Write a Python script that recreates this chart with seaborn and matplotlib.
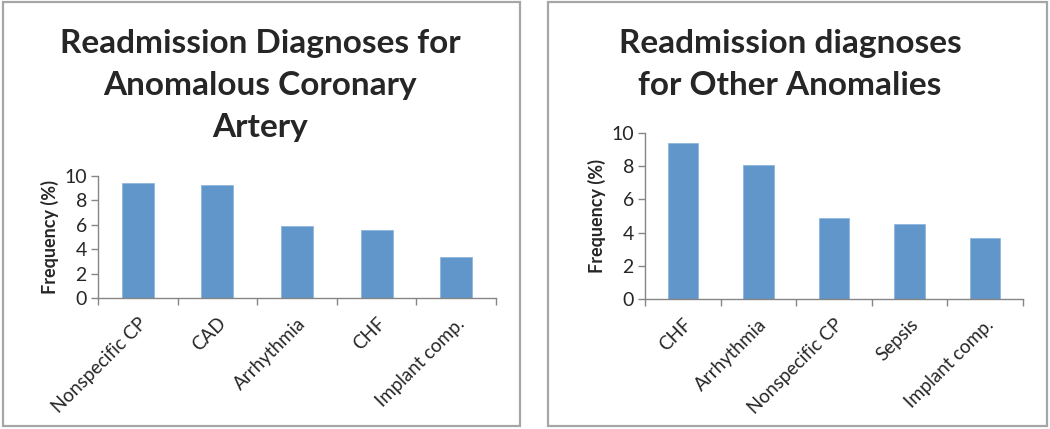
import matplotlib
matplotlib.use("Agg")
import matplotlib.pyplot as plt
import seaborn as sns
import pandas as pd
from matplotlib.patches import Rectangle

left_title = "Readmission Diagnoses for\nAnomalous Coronary\nArtery"
left_categories = ["Nonspecific CP", "CAD", "Arrhythmia", "CHF", "Implant comp."]
left_values = [9.4, 9.3, 5.9, 5.6, 3.4]

right_title = "Readmission diagnoses\nfor Other Anomalies"
right_categories = ["CHF", "Arrhythmia", "Nonspecific CP", "Sepsis", "Implant comp."]
right_values = [9.4, 8.1, 4.9, 4.5, 3.7]

y_ticks = [0, 2, 4, 6, 8, 10]
y_label = "Frequency (%)"

sns.set_theme(style="white")
plt.rcParams["font.family"] = ["Lato", "DejaVu Sans"]

BAR = "#6096ca"
GREY = "#868686"

fig = plt.figure(figsize=(10.5, 4.29), dpi=100)

# panel frames
for (x0, x1) in [(3, 520), (548, 1047)]:
    fig.patches.append(Rectangle((x0 / 1050, 3 / 429), (x1 - x0) / 1050, 424 / 429,
                                 transform=fig.transFigure, fill=False,
                                 edgecolor="#a6a6a6", linewidth=1.6, zorder=0))

def panel(rect, cats, vals, title, title_x, title_y):
    ax = fig.add_axes(rect)
    df = pd.DataFrame({"cat": cats, "val": vals})
    sns.barplot(data=df, x="cat", y="val", order=cats, color=BAR, width=0.4,
                edgecolor="#8fb6dd", linewidth=0.6, saturation=1, ax=ax)
    ax.set_ylim(0, 10)
    ax.set_xlim(-0.5, len(cats) - 0.5)
    ax.set_yticks(y_ticks)
    ax.set_yticklabels([str(t) for t in y_ticks], fontsize=14)
    ax.set_xticks(range(len(cats)))
    ax.set_xticklabels(cats, rotation=45, ha="right", rotation_mode="anchor", fontsize=13.5)
    ax.set_xticks([i - 0.5 for i in range(len(cats) + 1)], minor=True)
    ax.tick_params(axis="x", which="major", length=0, pad=12)
    ax.tick_params(axis="x", which="minor", length=5, color=GREY, width=1, direction="out", bottom=True)
    ax.tick_params(axis="y", length=5, color=GREY, width=1, direction="out", left=True, pad=3)
    for s in ["top", "right"]:
        ax.spines[s].set_visible(False)
    for s in ["left", "bottom"]:
        ax.spines[s].set_color(GREY)
        ax.spines[s].set_linewidth(1)
    ax.set_xlabel("")
    ax.set_ylabel(y_label, fontsize=13, fontweight="bold", labelpad=4)
    fig.text(title_x, title_y, title, ha="center", va="top", fontsize=24,
             fontweight="bold", linespacing=1.55)
    return ax

panel([98 / 1050, 1 - 298 / 429, (496 - 98) / 1050, (298 - 176) / 429],
      left_categories, left_values, left_title, 260 / 1050, 1 - 29 / 429)
panel([645 / 1050, 1 - 299 / 429, (1023 - 645) / 1050, (299 - 133) / 429],
      right_categories, right_values, right_title, 790 / 1050, 1 - 29 / 429)

fig.savefig("out.png", dpi=100)
